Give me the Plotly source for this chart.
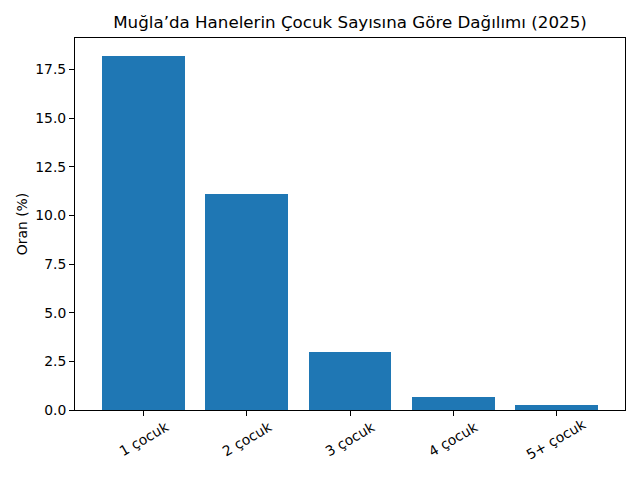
import plotly.graph_objects as go

categories = ["1 çocuk", "2 çocuk", "3 çocuk", "4 çocuk", "5+ çocuk"]
values = [18.2, 11.1, 3.0, 0.67, 0.27]
y_ticks = [0, 2.5, 5.0, 7.5, 10.0, 12.5, 15.0, 17.5]
y_tick_labels = ["0.0", "2.5", "5.0", "7.5", "10.0", "12.5", "15.0", "17.5"]

x_pos = list(range(len(categories)))

fig = go.Figure(go.Bar(x=x_pos, y=values, width=0.8, marker=dict(color="#1f77b4", line=dict(width=0))))

font = "DejaVu Sans"
FS = 13.9
W, H = 632, 472  # page body has an 8px margin
fig.update_layout(
    width=W, height=H,
    margin=dict(l=67, r=15, t=30, b=70, autoexpand=False),
    paper_bgcolor="white", plot_bgcolor="white",
    font=dict(family=font, color="black", size=FS),
    title=dict(text="Muğla’da Hanelerin Çocuk Sayısına Göre Dağılımı (2025)",
               x=0.5, xanchor="center", y=1 - 14 / H, yanchor="middle",
               xref="paper", font=dict(family=font, size=16.7, color="black")),
    showlegend=False,
    bargap=0,
)
fig.update_xaxes(
    range=[-0.664, 4.664], tickvals=x_pos, ticktext=[""] * len(categories),
    showline=True, linecolor="black", linewidth=1, mirror=True, automargin=False,
    ticks="outside", ticklen=5, tickcolor="black", showgrid=False, zeroline=False,
)
fig.update_yaxes(
    range=[0, 19.11], tickvals=y_ticks, ticktext=y_tick_labels, automargin=False,
    showline=True, linecolor="black", linewidth=1, mirror=True,
    ticks="outside", ticklen=5, tickcolor="black", showgrid=False, zeroline=False,
    title=dict(text="Oran (%)", font=dict(family=font, size=FS), standoff=4),
    tickfont=dict(family=font, size=FS),
)
for xp, lab in zip(x_pos, categories):
    fig.add_annotation(x=xp, y=0, xref="x", yref="paper", text=lab, showarrow=False,
                       textangle=-30, xanchor="center", yanchor="middle", yshift=-29,
                       font=dict(family=font, size=FS, color="black"))

fig.write_html("out.html")
